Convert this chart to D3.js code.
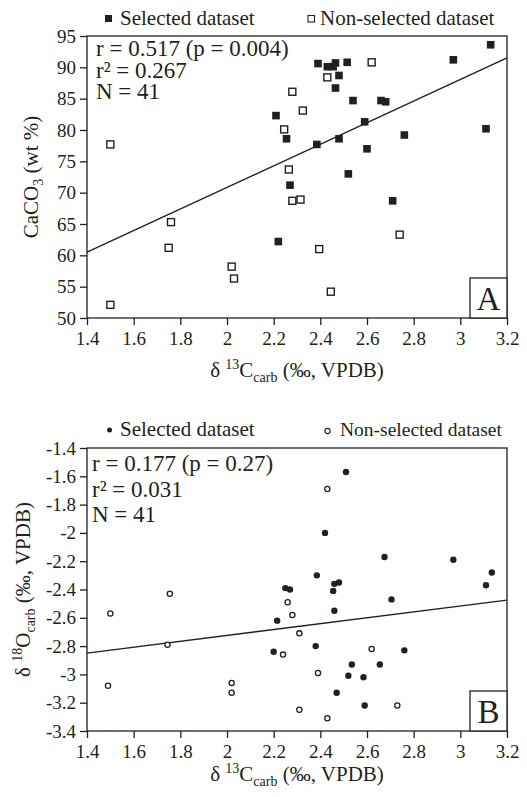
<!DOCTYPE html>
<html>
<head>
<meta charset="utf-8">
<script src="https://cdn.jsdelivr.net/npm/d3@7"></script>
<style>
  body { margin: 0; background: #fff; }
  svg { display: block; }
  text { font-family: "Liberation Serif", "Times New Roman", serif; fill: #231f20; }
</style>
</head>
<body>
<div id="chart"></div>
<script>
// Data
var xTicks = [1.4, 1.6, 1.8, 2, 2.2, 2.4, 2.6, 2.8, 3, 3.2];
var yTicksA = [50, 55, 60, 65, 70, 75, 80, 85, 90, 95];
var yTicksB = [-3.4, -3.2, -3, -2.8, -2.6, -2.4, -2.2, -2, -1.8, -1.6, -1.4];

// Panel A: d13C vs CaCO3
var selectedA = [[2.21,82.3],[2.255,78.6],[3.13,93.6],[2.39,90.6],[2.43,90.1],[2.455,90.1],
  [2.465,90.7],[2.515,90.8],[2.97,91.2],[2.48,88.7],[2.465,86.7],[2.54,84.7],[2.66,84.7],
  [2.68,84.5],[2.59,81.3],[2.48,78.6],[2.385,77.7],[2.76,79.2],[3.11,80.2],[2.60,77.0],
  [2.52,73.0],[2.22,62.2],[2.27,71.2],[2.71,68.7]];
var nonSelectedA = [[1.50,77.7],[2.245,80.1],[2.28,86.1],[2.265,73.7],[2.325,83.1],[2.62,90.8],
  [2.43,88.4],[1.76,65.3],[1.75,61.2],[1.50,52.1],[2.02,58.2],[2.03,56.3],[2.28,68.7],
  [2.315,68.9],[2.74,63.3],[2.395,61.0],[2.445,54.2]];
var fitA = [[1.4,60.5],[3.2,91.5]];
var statsA = ["r = 0.517 (p = 0.004)", "r\u00B2 = 0.267", "N = 41"];

// Panel B: d13C vs d18O
var selectedB = [[2.51,-1.57],[2.42,-2.0],[2.675,-2.17],[2.97,-2.19],[3.135,-2.28],[3.11,-2.37],
  [2.385,-2.30],[2.46,-2.36],[2.48,-2.35],[2.455,-2.41],[2.25,-2.39],[2.27,-2.40],[2.705,-2.47],
  [2.46,-2.55],[2.38,-2.80],[2.76,-2.83],[2.535,-2.93],[2.655,-2.93],[2.52,-3.01],[2.585,-3.02],
  [2.47,-3.13],[2.59,-3.22],[2.215,-2.62],[2.20,-2.84]];
var nonSelectedB = [[2.43,-1.69],[2.26,-2.49],[2.28,-2.58],[2.31,-2.71],[2.62,-2.82],[2.39,-2.99],
  [2.73,-3.22],[2.02,-3.13],[2.31,-3.25],[2.43,-3.31],[1.50,-2.57],[1.755,-2.43],[1.745,-2.79],
  [1.49,-3.08],[2.02,-3.06],[2.24,-2.86]];
var fitB = [[1.4,-2.85],[3.2,-2.475]];
var statsB = ["r = 0.177 (p = 0.27)", "r\u00B2 = 0.031", "N = 41"];

var W = 527, H = 797;
var left = 87, right = 507;
var ink = "#231f20";

var svg = d3.select("#chart").append("svg")
    .attr("width", W)
    .attr("height", H);

var fmt = function(d) { return String(+d.toFixed(1)); };

function drawPanel(opt) {
    var x = d3.scaleLinear().domain([1.4, 3.2]).range([left, right]);
    var y = d3.scaleLinear().domain(opt.yDomain).range([opt.bottom, opt.top]);
    var g = svg.append("g");

    // frame
    g.append("rect")
        .attr("x", left).attr("y", opt.top)
        .attr("width", right - left).attr("height", opt.bottom - opt.top)
        .attr("fill", "none").attr("stroke", ink).attr("stroke-width", 1.3);

    // axes
    var xa = g.append("g")
        .attr("transform", "translate(0," + opt.bottom + ")")
        .call(d3.axisBottom(x).tickValues(xTicks).tickFormat(fmt).tickSize(7).tickSizeOuter(0).tickPadding(7));
    var ya = g.append("g")
        .attr("transform", "translate(" + left + ",0)")
        .call(d3.axisLeft(y).tickValues(opt.yTicks).tickFormat(fmt).tickSize(7).tickSizeOuter(0).tickPadding(4));
    [xa, ya].forEach(function(a) {
        a.select(".domain").remove();
        a.selectAll("line").attr("stroke", ink).attr("stroke-width", 1.3);
        a.selectAll("text").style("font-family", "Liberation Serif, serif")
            .style("font-size", "19px").attr("fill", ink);
    });

    // regression line
    g.append("path")
        .datum(opt.fit)
        .attr("d", d3.line().x(function(d) { return x(d[0]); }).y(function(d) { return y(d[1]); }))
        .attr("fill", "none").attr("stroke", ink).attr("stroke-width", 1.4);

    // points
    if (opt.shape === "square") {
        g.selectAll(".non").data(opt.non).enter().append("rect")
            .attr("x", function(d) { return x(d[0]) - 3.5; })
            .attr("y", function(d) { return y(d[1]) - 3.5; })
            .attr("width", 7).attr("height", 7)
            .attr("fill", "#fff").attr("stroke", ink).attr("stroke-width", 1.4);
        g.selectAll(".sel").data(opt.sel).enter().append("rect")
            .attr("x", function(d) { return x(d[0]) - 3.8; })
            .attr("y", function(d) { return y(d[1]) - 3.8; })
            .attr("width", 7.6).attr("height", 7.6)
            .attr("fill", ink);
    } else {
        g.selectAll(".non").data(opt.non).enter().append("circle")
            .attr("cx", function(d) { return x(d[0]); })
            .attr("cy", function(d) { return y(d[1]); })
            .attr("r", 2.6)
            .attr("fill", "#fff").attr("stroke", ink).attr("stroke-width", 1.3);
        g.selectAll(".sel").data(opt.sel).enter().append("circle")
            .attr("cx", function(d) { return x(d[0]); })
            .attr("cy", function(d) { return y(d[1]); })
            .attr("r", 3.2)
            .attr("fill", ink);
    }

    // stats text
    g.selectAll(".stat").data(opt.stats).enter().append("text")
        .attr("x", opt.statX)
        .attr("y", function(d, i) { return opt.statY + i * opt.statGap; })
        .style("font-size", "23px")
        .text(function(d) { return d; });

    // panel letter box
    g.append("rect")
        .attr("x", right - 37).attr("y", opt.bottom - 40)
        .attr("width", 37).attr("height", 40)
        .attr("fill", "#fff").attr("stroke", ink).attr("stroke-width", 1.3);
    g.append("text")
        .attr("x", right - 18.5).attr("y", opt.bottom - 8)
        .attr("text-anchor", "middle")
        .style("font-size", "33px")
        .text(opt.letter);

    // x axis title
    var xt = g.append("text")
        .attr("x", 297).attr("y", opt.xTitleY)
        .attr("text-anchor", "middle")
        .style("font-size", "21px");
    xt.append("tspan").text("\u03B4 ");
    xt.append("tspan").attr("dy", -8).style("font-size", "14px").text("13");
    xt.append("tspan").attr("dy", 8).text("C");
    xt.append("tspan").attr("dy", 5).style("font-size", "14px").text("carb");
    xt.append("tspan").attr("dy", -5).text(" (\u2030, VPDB)");

    // y axis title
    var yt = g.append("text")
        .attr("transform", "translate(" + opt.yTitleX + "," + ((opt.top + opt.bottom) / 2) + ") rotate(-90)")
        .attr("text-anchor", "middle")
        .style("font-size", "21px");
    opt.yTitle(yt);

    // legend
    var lg = g.append("g");
    if (opt.shape === "square") {
        lg.append("rect").attr("x", 105).attr("y", opt.legendY - 10).attr("width", 7).attr("height", 7).attr("fill", ink);
        lg.append("rect").attr("x", 308).attr("y", opt.legendY - 9.5).attr("width", 6.5).attr("height", 6.5)
            .attr("fill", "#fff").attr("stroke", ink).attr("stroke-width", 1.1);
    } else {
        lg.append("circle").attr("cx", 109.5).attr("cy", opt.legendY - 6).attr("r", 2.5).attr("fill", ink);
        lg.append("circle").attr("cx", 327.5).attr("cy", opt.legendY - 5).attr("r", 2.6)
            .attr("fill", "#fff").attr("stroke", ink).attr("stroke-width", 1.1);
    }
    lg.append("text").attr("x", 120).attr("y", opt.legendY).style("font-size", "21px").text("Selected dataset");
    lg.append("text").attr("x", opt.nonX).attr("y", opt.legendY).style("font-size", opt.nonFont).text("Non-selected dataset");
}

drawPanel({
    top: 36, bottom: 318, yDomain: [50, 95], yTicks: yTicksA,
    sel: selectedA, non: nonSelectedA, fit: fitA, shape: "square",
    stats: statsA, statX: 96, statY: 56, statGap: 21.5,
    letter: "A", xTitleY: 377, yTitleX: 38, legendY: 25, nonX: 320, nonFont: "21px",
    yTitle: function(t) {
        t.append("tspan").text("CaCO");
        t.append("tspan").attr("dy", 5).style("font-size", "14px").text("3");
        t.append("tspan").attr("dy", -5).text(" (wt %)");
    }
});

drawPanel({
    top: 448, bottom: 731, yDomain: [-3.4, -1.4], yTicks: yTicksB,
    sel: selectedB, non: nonSelectedB, fit: fitB, shape: "circle",
    stats: statsB, statX: 92, statY: 471, statGap: 25.5,
    letter: "B", xTitleY: 781, yTitleX: 30, legendY: 436, nonX: 340, nonFont: "19.5px",
    yTitle: function(t) {
        t.append("tspan").text("\u03B4 ");
        t.append("tspan").attr("dy", -8).style("font-size", "14px").text("18");
        t.append("tspan").attr("dy", 8).text("O");
        t.append("tspan").attr("dy", 5).style("font-size", "14px").text("carb");
        t.append("tspan").attr("dy", -5).text(" (\u2030, VPDB)");
    }
});
</script>
</body>
</html>
